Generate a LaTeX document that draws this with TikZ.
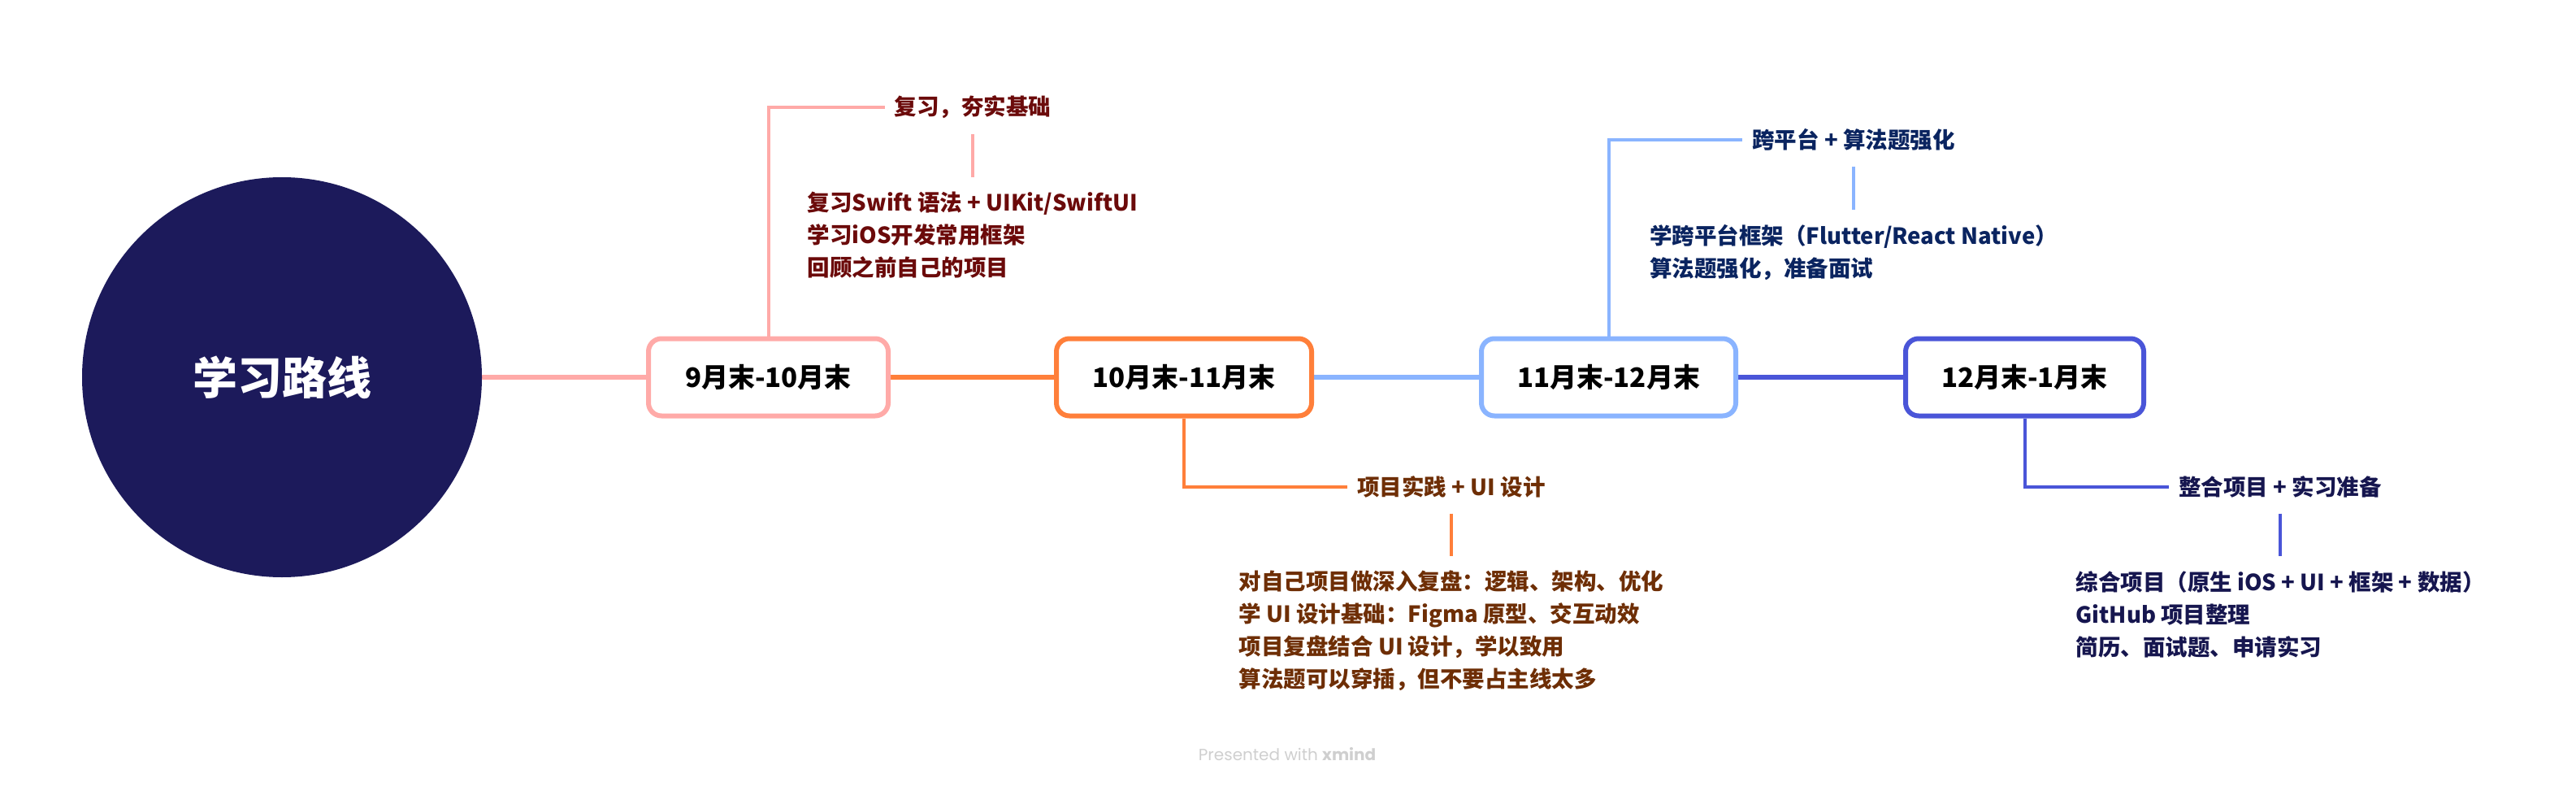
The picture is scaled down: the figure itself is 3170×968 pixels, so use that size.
\documentclass[tikz,border=0pt]{standalone}
\usepackage{fontspec}
\setmainfont{Noto Sans CJK SC}
\newfontfamily\footfont{Poppins}
\usetikzlibrary{backgrounds}
\definecolor{navyc}{HTML}{1C1A5B}
\definecolor{pinkc}{HTML}{FFAAA8}
\definecolor{orangec}{HTML}{FF7F3A}
\definecolor{lbluec}{HTML}{8AB4FF}
\definecolor{bluec}{HTML}{4A55D8}
\definecolor{txtA}{HTML}{6B0A0A}
\definecolor{txtB}{HTML}{6E2E05}
\definecolor{txtC}{HTML}{0A2460}
\definecolor{txtD}{HTML}{16164F}
\definecolor{footc}{HTML}{CFCFCF}
\begin{document}
\begin{tikzpicture}[x=1pt,y=-1pt,
  period/.style={draw, line width=6pt, fill=white, rounded corners=16pt, minimum height=95pt, inner sep=0pt, text=black, font=\fontsize{33}{40}\selectfont\bfseries},
  mainline/.style={line width=6pt},
  subline/.style={line width=4pt},
  topic/.style={inner xsep=12pt, inner ysep=19pt, font=\fontsize{27.5}{40}\selectfont\bfseries},
  detail/.style={align=left, anchor=north, inner xsep=0pt, inner ysep=18pt, font=\fontsize{27.5}{40}\selectfont\bfseries},
]
\useasboundingbox (0,0) rectangle (3170,968);
\node[circle, fill=navyc, minimum size=492pt, inner sep=0pt, text=white, font=\fontsize{55}{60}\selectfont\bfseries] (root) at (347,464) {学习路线};
\node[period, draw=pinkc, minimum width=295pt] (b1) at (945.5,464) {9月末-10月末};
\node[period, draw=orangec, minimum width=314pt] (b2) at (1457,464) {10月末-11月末};
\node[period, draw=lbluec, minimum width=313pt] (b3) at (1979.5,464) {11月末-12月末};
\node[period, draw=bluec, minimum width=293pt] (b4) at (2491.5,464) {12月末-1月末};

\node[topic, text=txtA] (t1) at (1197,132) {复习，夯实基础};
\node[detail, text=txtA] (d1) at (1197,218) {复习Swift 语法 + UIKit/SwiftUI\\学习iOS开发常用框架\\回顾之前自己的项目};

\node[topic, text=txtB] (t2) at (1786,599) {项目实践 + UI 设计};
\node[detail, text=txtB] (d2) at (1786,684) {对自己项目做深入复盘：逻辑、架构、优化\\学 UI 设计基础：Figma 原型、交互动效\\项目复盘结合 UI 设计，学以致用\\算法题可以穿插，但不要占主线太多};

\node[topic, text=txtC] (t3) at (2281,172) {跨平台 + 算法题强化};
\node[detail, text=txtC] (d3) at (2281,258) {学跨平台框架（Flutter/React Native）\\算法题强化，准备面试};

\node[topic, text=txtD] (t4) at (2806,599) {整合项目 + 实习准备};
\node[detail, text=txtD] (d4) at (2806,684) {综合项目（原生 iOS + UI + 框架 + 数据）\\GitHub 项目整理\\简历、面试题、申请实习};

\node[text=footc, font=\footfont\fontsize{20}{24}\selectfont] (foot) at (1584,928) {Presented with \textbf{xmind}};

\begin{scope}[on background layer]
\draw[mainline, pinkc] (root.east) -- (b1.west);
\draw[mainline, orangec] (b1.east) -- (b2.west);
\draw[mainline, lbluec] (b2.east) -- (b3.west);
\draw[mainline, bluec] (b3.east) -- (b4.west);
\draw[subline, pinkc] (b1.north) |- (t1.west);
\draw[subline, orangec] (b2.south) |- (t2.west);
\draw[subline, lbluec] (b3.north) |- (t3.west);
\draw[subline, bluec] (b4.south) |- (t4.west);
\draw[subline, pinkc] (t1.south) -- (d1.north);
\draw[subline, orangec] (t2.south) -- (d2.north);
\draw[subline, lbluec] (t3.south) -- (d3.north);
\draw[subline, bluec] (t4.south) -- (d4.north);
\end{scope}
\end{tikzpicture}
\end{document}
